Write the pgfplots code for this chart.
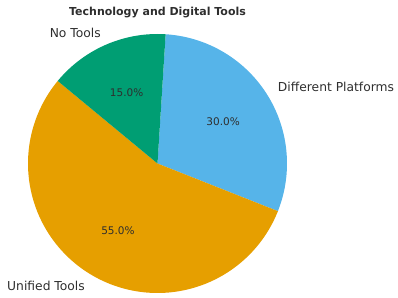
\documentclass[border=0pt]{standalone}
\usepackage{pgfplots}
\pgfplotsset{compat=1.18}
\usepackage{fontspec}
\setmainfont{DejaVu Sans}
\definecolor{cBlue}{HTML}{56B4E9}
\definecolor{cOrange}{HTML}{E69F00}
\definecolor{cGreen}{HTML}{009E73}
\definecolor{txt}{HTML}{2E2E2E}
% pie: percentages
\def\pA{30}   % Different Platforms
\def\pB{55}   % Unified Tools
\def\pC{15}   % No Tools
\def\start{86.4}
\def\cx{157.5}
\def\cy{133.5}
\def\r{129.5}
\begin{document}
\begin{tikzpicture}
\begin{axis}[
  scale only axis, width=398pt, height=297pt,
  xmin=0, xmax=398, ymin=0, ymax=297,
  hide axis, clip=false,
]
\pgfmathsetmacro{\aA}{\start-3.6*\pA}
\pgfmathsetmacro{\aB}{\aA-3.6*\pB}
\pgfmathsetmacro{\aC}{\aB-3.6*\pC}
\addplot[fill=cBlue, draw=none, domain=\aA:\start, samples=80]
  ({\cx+\r*cos(x)},{\cy+\r*sin(x)}) -- (axis cs:\cx,\cy) -- cycle;
\addplot[fill=cOrange, draw=none, domain=\aB:\aA, samples=120]
  ({\cx+\r*cos(x)},{\cy+\r*sin(x)}) -- (axis cs:\cx,\cy) -- cycle;
\addplot[fill=cGreen, draw=none, domain=\aC:\aB, samples=60]
  ({\cx+\r*cos(x)},{\cy+\r*sin(x)}) -- (axis cs:\cx,\cy) -- cycle;
% labels
\pgfmathsetmacro{\mA}{(\start+\aA)/2}
\pgfmathsetmacro{\mB}{(\aA+\aB)/2}
\pgfmathsetmacro{\mC}{(\aB+\aC)/2}
\node[anchor=west, text=txt, font=\fontsize{12.3}{14}\selectfont, inner sep=0pt]
  at (axis cs:{\cx+1.1*\r*cos(\mA)},{\cy+1.1*\r*sin(\mA)}) {Different Platforms};
\node[anchor=east, text=txt, font=\fontsize{12.3}{14}\selectfont, inner sep=0pt]
  at (axis cs:{\cx+1.1*\r*cos(\mB)},{\cy+1.1*\r*sin(\mB)}) {Unified Tools};
\node[anchor=east, text=txt, font=\fontsize{12.3}{14}\selectfont, inner sep=0pt]
  at (axis cs:{\cx+1.1*\r*cos(\mC)},{\cy+1.1*\r*sin(\mC)}) {No Tools};
\node[text=txt, font=\fontsize{10.5}{12}\selectfont, inner sep=0pt]
  at (axis cs:{\cx+0.6*\r*cos(\mA)},{\cy+0.6*\r*sin(\mA)}) {30.0\%};
\node[text=txt, font=\fontsize{10.5}{12}\selectfont, inner sep=0pt]
  at (axis cs:{\cx+0.6*\r*cos(\mB)},{\cy+0.6*\r*sin(\mB)}) {55.0\%};
\node[text=txt, font=\fontsize{10.5}{12}\selectfont, inner sep=0pt]
  at (axis cs:{\cx+0.6*\r*cos(\mC)},{\cy+0.6*\r*sin(\mC)}) {15.0\%};
\node[text=txt, font=\fontsize{11}{13}\selectfont\bfseries, inner sep=0pt]
  at (axis cs:157.5,284) {Technology and Digital Tools};
\end{axis}
\path (current axis.south west) rectangle (current axis.north east);
\end{tikzpicture}
\end{document}
